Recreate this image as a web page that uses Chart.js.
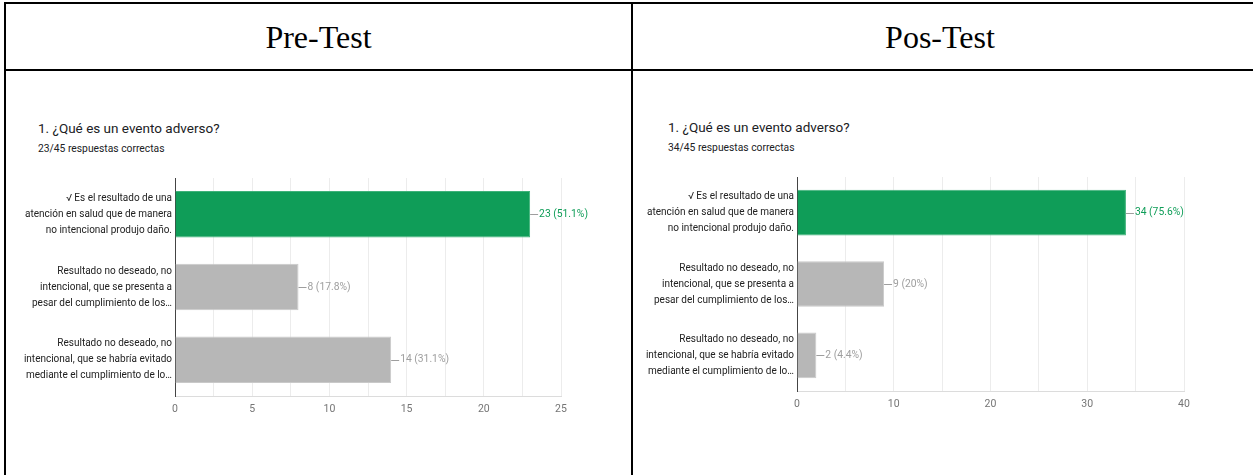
<!DOCTYPE html>
<html>
<head>
<meta charset="utf-8">
<script src="https://cdn.jsdelivr.net/npm/chart.js@4.4.0/dist/chart.umd.min.js"></script>
<style>
  body { margin: 0; background: #fff; width: 1253px; height: 475px; overflow: hidden; position: relative; }
  .linea { position: absolute; background: #000; }
  .encabezado { position: absolute; top: 4px; height: 66px; line-height: 66px; text-align: center;
    font-family: "Liberation Serif", "Times New Roman", serif; font-size: 32px; color: #000; }
  .titulo { position: absolute; font-family: Roboto, sans-serif; font-size: 13.5px; color: #202124; }
  .subtitulo { position: absolute; font-family: Roboto, sans-serif; font-size: 10.3px; color: #202124; }
  canvas { position: absolute; }
</style>
</head>
<body>

<!-- bordes de la tabla -->
<div class="linea" style="left:4px; top:2px; width:1249px; height:2px;"></div>
<div class="linea" style="left:4px; top:2px; width:2px; height:473px;"></div>
<div class="linea" style="left:4px; top:69px; width:1249px; height:2px;"></div>
<div class="linea" style="left:631px; top:2px; width:2px; height:473px;"></div>

<div class="encabezado" style="left:6px; width:625px;">Pre-Test</div>
<div class="encabezado" style="left:633px; width:614px;">Pos-Test</div>

<div class="titulo" style="left:38px; top:120px;">1. ¿Qué es un evento adverso?</div>
<div class="subtitulo" style="left:38px; top:142px;">23/45 respuestas correctas</div>
<div class="titulo" style="left:668px; top:119px;">1. ¿Qué es un evento adverso?</div>
<div class="subtitulo" style="left:668px; top:141px;">34/45 respuestas correctas</div>

<canvas id="chartPre" width="600" height="260" style="left:10px; top:170px;"></canvas>
<canvas id="chartPos" width="606" height="260" style="left:634px; top:170px;"></canvas>

<script>
// === Datos ===
const opciones = [
  ["√ Es el resultado de una", "atención en salud que de manera", "no intencional produjo daño."],
  ["Resultado no deseado, no", "intencional, que se presenta a", "pesar del cumplimiento de los…"],
  ["Resultado no deseado, no", "intencional, que se habría evitado", "mediante el cumplimiento de lo…"]
];
const respuestasPre = [23, 8, 14];
const respuestasPos = [34, 9, 2];
const totalEncuestados = 45;

const ticksPre = [0, 5, 10, 15, 20, 25];
const ticksPos = [0, 10, 20, 30, 40];

const verde = "#0f9d58";
const gris = "#b7b7b7";

// etiqueta "—23 (51.1%)" al final de cada barra
const etiquetasBarras = {
  id: "etiquetasBarras",
  afterDatasetsDraw(chart) {
    const ctx = chart.ctx;
    const meta = chart.getDatasetMeta(0);
    const valores = chart.data.datasets[0].data;
    ctx.save();
    ctx.font = "10.3px Roboto";
    ctx.textBaseline = "middle";
    meta.data.forEach((barra, i) => {
      const v = valores[i];
      const pct = Math.round(v / totalEncuestados * 1000) / 10;
      const texto = v + " (" + pct + "%)";
      ctx.strokeStyle = "#9e9e9e";
      ctx.lineWidth = 1;
      ctx.beginPath();
      ctx.moveTo(barra.x, Math.round(barra.y) + 0.5);
      ctx.lineTo(barra.x + 8, Math.round(barra.y) + 0.5);
      ctx.stroke();
      ctx.fillStyle = i === 0 ? verde : "#9e9e9e";
      ctx.fillText(texto, barra.x + 9, barra.y);
    });
    ctx.restore();
  }
};

function crearGrafico(id, valores, ticks, paso, max, anchoEtiquetas, padding) {
  return new Chart(document.getElementById(id).getContext("2d"), {
    type: "bar",
    data: {
      labels: opciones,
      datasets: [{
        data: valores,
        backgroundColor: valores.map((v, i) => i === 0 ? verde : gris),
        borderColor: valores.map((v, i) => i === 0 ? "#3fb27a" : "#c9c9c9"),
        borderWidth: 1,
        borderSkipped: "start",
        categoryPercentage: 1,
        barPercentage: 0.64
      }]
    },
    options: {
      indexAxis: "y",
      responsive: false,
      animation: false,
      layout: { padding: padding },
      plugins: { legend: { display: false }, tooltip: { enabled: false } },
      scales: {
        x: {
          min: 0,
          max: max,
          ticks: {
            stepSize: paso,
            autoSkip: false,
            maxRotation: 0,
            padding: 7,
            color: "#757575",
            font: { family: "Roboto", size: 10.5 },
            callback: (v) => ticks.includes(v) ? v : ""
          },
          grid: { color: "#ececec", drawTicks: false },
          border: { color: "#dcdcdc" },
          afterFit: (escala) => { escala.height = 24; escala.paddingLeft = 0; escala.paddingRight = 0; }
        },
        y: {
          ticks: {
            padding: 3,
            color: "#222",
            font: { family: "Roboto", size: 10, lineHeight: 1.6 }
          },
          grid: { display: false, drawTicks: false },
          border: { color: "#444", width: 1 },
          afterFit: (escala) => {
            escala.width = anchoEtiquetas;
            escala.paddingTop = 0;
            escala.paddingBottom = 0;
          }
        }
      }
    },
    plugins: [etiquetasBarras]
  });
}

crearGrafico("chartPre", respuestasPre, ticksPre, 2.5, 25, 165, { top: 8, right: 49, bottom: 10, left: 0 });
crearGrafico("chartPos", respuestasPos, ticksPos, 5, 40, 163, { top: 7, right: 56, bottom: 15, left: 0 });
</script>
</body>
</html>
